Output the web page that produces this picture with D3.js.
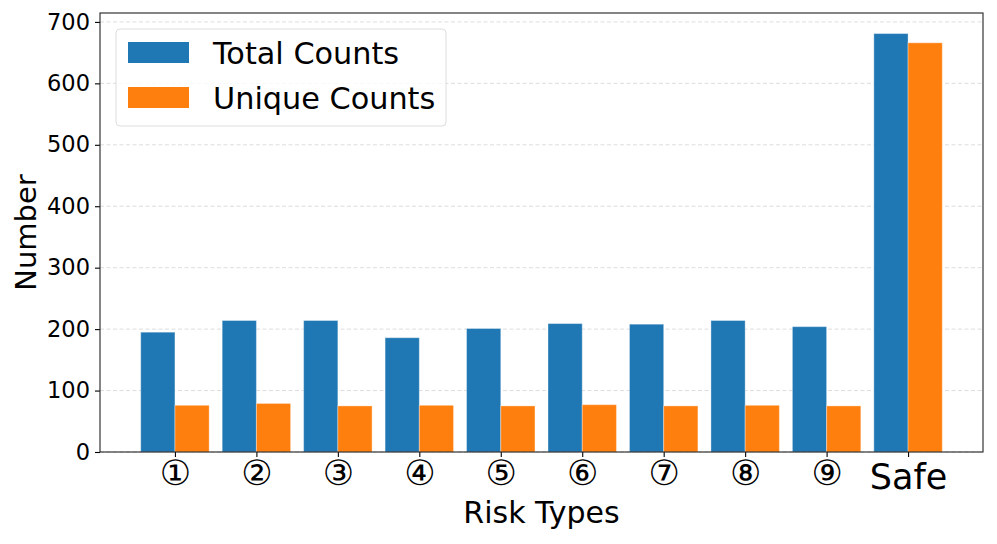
<!DOCTYPE html>
<html>
<head>
<meta charset="utf-8">
<script src="https://cdn.jsdelivr.net/npm/d3@7"></script>
<style>
  body { margin: 0; background: #fff; }
  svg text { font-family: "DejaVu Sans", sans-serif; fill: #000; }
</style>
</head>
<body>
<svg width="997" height="544"></svg>
<script>
const categories = ["①", "②", "③", "④", "⑤", "⑥", "⑦", "⑧", "⑨", "Safe"];
const totalCounts = [195, 214, 214, 186, 201, 209, 208, 214, 204, 681];
const uniqueCounts = [76, 79, 75, 76, 75, 77, 75, 76, 75, 666];
const seriesNames = ["Total Counts", "Unique Counts"];
const colors = ["#1f77b4", "#ff7f0e"];
const yTicks = [0, 100, 200, 300, 400, 500, 600, 700];

const svg = d3.select("svg"),
      margin = { top: 13, right: 14, bottom: 92, left: 100 },
      width = +svg.attr("width") - margin.left - margin.right,
      height = +svg.attr("height") - margin.top - margin.bottom;

const barW = 0.42;
const x = d3.scaleLinear().domain([-0.92, categories.length - 1 + 0.92]).range([0, width]);
const y = d3.scaleLinear().domain([0, 714.5]).range([height, 0]);

const g = svg.append("g").attr("transform", `translate(${margin.left},${margin.top})`);

// grid
g.append("g").selectAll("line").data(yTicks).join("line")
    .attr("x1", 0).attr("x2", width)
    .attr("y1", d => y(d)).attr("y2", d => y(d))
    .attr("stroke", "#d9d9d9").attr("stroke-width", 0.9)
    .attr("stroke-dasharray", "4,2.5");

// bars
const series = [totalCounts, uniqueCounts];
series.forEach((vals, s) => {
    g.append("g").selectAll("rect").data(vals).join("rect")
        .attr("x", (d, i) => x(i + (s === 0 ? -barW : 0)))
        .attr("width", x(barW) - x(0))
        .attr("y", d => y(d))
        .attr("height", d => y(0) - y(d))
        .attr("fill", colors[s])
        .attr("stroke", "#fff").attr("stroke-opacity", 0.35).attr("stroke-width", 1);
});

// axes
const last = categories.length - 1;
const xAxis = g.append("g").attr("transform", `translate(0,${height})`)
    .call(d3.axisBottom(x).tickValues(d3.range(categories.length)).tickFormat(i => categories[i]).tickSizeOuter(0).tickSize(5).tickPadding(6));
xAxis.select(".domain").remove();
xAxis.selectAll("line").attr("stroke", "#000").attr("stroke-width", 1.1);
xAxis.selectAll("text")
    .attr("font-size", (d, i) => i === last ? "35px" : "35px")
    .attr("dy", (d, i) => i === last ? "0.75em" : "0.62em");

const yAxis = g.append("g")
    .call(d3.axisLeft(y).tickValues(yTicks).tickSizeOuter(0).tickSize(5).tickPadding(5));
yAxis.select(".domain").remove();
yAxis.selectAll("line").attr("stroke", "#000").attr("stroke-width", 1.1);
yAxis.selectAll("text").attr("font-size", "22.5px");

// frame
g.append("rect").attr("x", 0).attr("y", 0).attr("width", width).attr("height", height)
    .attr("fill", "none").attr("stroke", "#222").attr("stroke-width", 1.1);

// labels
g.append("text")
    .attr("x", width / 2).attr("y", height + 71)
    .attr("text-anchor", "middle").attr("font-size", "30px")
    .text("Risk Types");

g.append("text")
    .attr("transform", "rotate(-90)")
    .attr("x", -height / 2).attr("y", -64)
    .attr("text-anchor", "middle").attr("font-size", "29px")
    .text("Number");

// legend
const legend = g.append("g").attr("transform", "translate(16,16)");
legend.append("rect").attr("x", 0).attr("y", 0).attr("width", 330).attr("height", 97)
    .attr("rx", 4).attr("fill", "#fff").attr("fill-opacity", 0.8)
    .attr("stroke", "#ddd").attr("stroke-width", 1);
seriesNames.forEach((name, i) => {
    legend.append("rect").attr("x", 12).attr("y", 13 + i * 45).attr("width", 61).attr("height", 21)
        .attr("fill", colors[i]);
    legend.append("text").attr("x", 97).attr("y", 24 + i * 45).attr("dy", "0.36em")
        .attr("font-size", "30.3px").text(name);
});
</script>
</body>
</html>
